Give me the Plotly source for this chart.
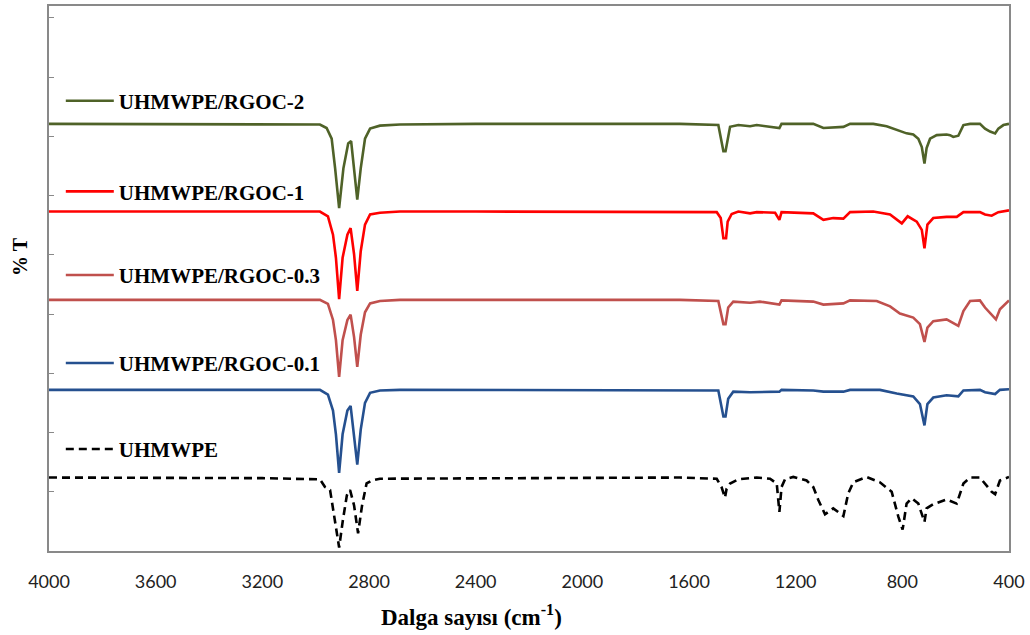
import plotly.graph_objects as go

# ---- data (wavenumber in cm-1, %T with stacking offsets) ----
series_names = ["UHMWPE/RGOC-2", "UHMWPE/RGOC-1", "UHMWPE/RGOC-0.3", "UHMWPE/RGOC-0.1", "UHMWPE"]

wn_rgoc2 = [4000, 3600, 3200, 2984, 2959, 2940, 2927, 2912, 2896, 2878, 2867, 2856, 2844, 2831, 2815,
            2796, 2759, 2684, 2400, 2000, 1700, 1634, 1490, 1471, 1463, 1446, 1415, 1371, 1346, 1261,
            1253, 1134, 1096, 1021, 996, 909, 859, 821, 784, 759, 740, 727, 717, 709, 696, 671, 634,
            621, 609, 590, 571, 546, 509, 490, 471, 452, 440, 421, 400]
t_rgoc2 = [72.1, 72.1, 72.1, 72.0, 71.4, 69.6, 64.6, 57.9, 64.6, 68.8, 69.2, 64.6, 59.3, 64.6, 69.6,
           71.3, 71.8, 72.0, 72.1, 72.1, 72.1, 72.1, 71.9, 67.5, 67.5, 71.6, 71.9, 71.7, 71.9, 71.4,
           72.1, 72.1, 71.4, 71.6, 72.1, 72.1, 71.7, 71.1, 70.5, 70.3, 69.6, 68.2, 65.4, 68.0, 69.6,
           70.2, 70.3, 70.2, 69.9, 70.1, 71.9, 72.1, 72.1, 71.3, 70.8, 70.5, 71.3, 71.9, 72.1]

wn_rgoc1 = [4000, 3600, 3200, 2984, 2954, 2935, 2924, 2912, 2899, 2881, 2869, 2856, 2844, 2831, 2815,
            2796, 2759, 2684, 2400, 2000, 1634, 1496, 1481, 1471, 1461, 1455, 1440, 1415, 1371, 1346,
            1277, 1261, 1253, 1134, 1096, 1059, 1021, 996, 909, 846, 802, 780, 746, 727, 717, 706,
            684, 634, 596, 571, 509, 490, 465, 440, 400]
t_rgoc1 = [57.3, 57.3, 57.3, 57.3, 56.5, 53.4, 49.5, 42.5, 49.5, 53.4, 54.5, 50.1, 43.9, 50.6, 55.1,
           56.8, 57.1, 57.3, 57.3, 57.3, 57.3, 57.2, 56.2, 52.8, 52.8, 55.6, 56.9, 57.3, 57.0, 57.2,
           57.1, 55.9, 57.2, 57.0, 55.9, 56.2, 56.1, 57.2, 57.3, 56.8, 55.3, 56.5, 55.6, 54.2, 51.1,
           55.1, 56.2, 56.4, 56.4, 57.2, 57.2, 56.8, 56.6, 57.2, 57.5]

wn_rgoc03 = [4000, 3600, 3200, 2984, 2954, 2935, 2924, 2912, 2899, 2881, 2869, 2856, 2844, 2831, 2815,
             2796, 2759, 2684, 2400, 2000, 1634, 1490, 1471, 1463, 1453, 1434, 1371, 1334, 1261, 1253,
             1134, 1096, 1021, 996, 896, 846, 809, 759, 734, 717, 706, 684, 634, 590, 571, 546, 509,
             490, 471, 449, 434, 400]
t_rgoc03 = [42.4, 42.4, 42.4, 42.4, 41.7, 39.0, 35.6, 29.4, 35.6, 39.0, 39.9, 36.1, 31.1, 36.5, 40.3,
            41.8, 42.2, 42.4, 42.4, 42.4, 42.4, 42.2, 38.3, 38.3, 41.1, 42.1, 41.9, 42.1, 41.6, 42.3,
            42.1, 41.6, 41.8, 42.3, 42.2, 41.3, 40.1, 39.4, 38.3, 35.3, 37.7, 38.8, 39.1, 38.0, 40.5,
            42.2, 42.3, 41.1, 40.2, 39.1, 40.8, 42.3]

wn_rgoc01 = [4000, 3600, 3200, 2984, 2954, 2935, 2924, 2912, 2899, 2881, 2869, 2856, 2844, 2831, 2815,
             2796, 2759, 2684, 2400, 2000, 1634, 1490, 1471, 1463, 1453, 1434, 1371, 1261, 1253, 1134,
             1096, 1021, 996, 884, 821, 759, 734, 717, 706, 684, 634, 590, 571, 509, 490, 452, 434, 400]
t_rgoc01 = [27.2, 27.2, 27.2, 27.2, 26.4, 23.7, 19.7, 13.2, 19.7, 23.7, 24.5, 19.7, 14.6, 20.5, 25.0,
            26.7, 27.1, 27.2, 27.2, 27.2, 27.2, 27.1, 22.7, 22.7, 25.7, 26.9, 26.8, 26.9, 27.2, 27.1,
            26.9, 26.9, 27.2, 27.2, 26.6, 26.1, 24.8, 21.2, 24.8, 25.9, 26.3, 26.1, 27.1, 27.2, 26.8,
            26.5, 27.2, 27.3]

wn_uhmwpe = [4000, 3600, 3200, 2984, 2965, 2946, 2927, 2912, 2898, 2883, 2871, 2856, 2841, 2826, 2809,
             2789, 2759, 2400, 2000, 1634, 1496, 1478, 1465, 1459, 1446, 1415, 1346, 1296, 1271, 1261,
             1253, 1240, 1209, 1159, 1134, 1115, 1090, 1059, 1021, 1003, 984, 934, 884, 840, 815, 799,
             784, 765, 740, 717, 709, 684, 634, 615, 596, 571, 546, 509, 490, 465, 452, 434, 400]
t_uhmwpe = [12.4, 12.4, 12.3, 12.1, 10.8, 10.3, 5.2, 0.6, 5.2, 9.4, 10.3, 7.7, 3.0, 7.7, 11.4,
            11.9, 12.2, 12.3, 12.3, 12.4, 12.2, 10.8, 9.0, 10.5, 11.4, 12.1, 12.4, 12.2, 11.4, 6.6,
            10.8, 12.1, 12.5, 11.9, 10.8, 8.6, 6.2, 7.2, 5.9, 9.7, 11.6, 12.5, 11.6, 10.0, 5.8, 3.6,
            8.0, 8.9, 8.0, 4.9, 7.2, 7.9, 8.7, 8.3, 8.0, 11.4, 12.4, 12.4, 11.4, 10.0, 9.6, 11.9, 12.5]

x_ticks = [4000, 3600, 3200, 2800, 2400, 2000, 1600, 1200, 800, 400]
y_ticks = [0, 10, 20, 30, 40, 50, 60, 70, 80, 90]

# ---- styling ----
colors = ["#4f6228", "#ff0000", "#c0504d", "#25508f", "#000000"]
dashes = ["solid", "solid", "solid", "solid", "8px,5px"]
legend_y = [0.8255, 0.6593, 0.5057, 0.3444, 0.1864]
xs = [wn_rgoc2, wn_rgoc1, wn_rgoc03, wn_rgoc01, wn_uhmwpe]
ys = [t_rgoc2, t_rgoc1, t_rgoc03, t_rgoc01, t_uhmwpe]

legend_font = dict(family="Liberation Serif", size=21, color="#000000", weight="bold")

fig = go.Figure()
layout_legends = {}
for i, (name, x, y, c, d) in enumerate(zip(series_names, xs, ys, colors, dashes)):
    key = "legend" if i == 0 else f"legend{i + 1}"
    fig.add_trace(go.Scatter(x=x, y=y, mode="lines", name=name,
                             line=dict(color=c, width=2.6, dash=d),
                             legend=key))
    layout_legends[key] = dict(x=0.0123, y=legend_y[i], xanchor="left", yanchor="middle",
                               bgcolor="rgba(0,0,0,0)", borderwidth=0, font=legend_font,
                               itemwidth=48, tracegroupgap=0)

axis_gray = "#898989"
fig.update_layout(
    width=1030, height=635,
    margin=dict(l=49, r=21, t=4, b=84),
    paper_bgcolor="white", plot_bgcolor="white",
    showlegend=True,
    **layout_legends,
    xaxis=dict(range=[4000, 400], tickvals=x_ticks, ticktext=[str(v) for v in x_ticks],
               showline=True, linecolor=axis_gray, linewidth=1.5, mirror=True,
               showgrid=False, zeroline=False, ticks="", ticklabelstandoff=14,
               tickfont=dict(family="Lato", size=18, color="#222222")),
    yaxis=dict(range=[0, 92], tickvals=y_ticks, showticklabels=False,
               showline=True, linecolor=axis_gray, linewidth=1.5, mirror=True,
               showgrid=False, zeroline=False, ticks="inside", ticklen=5,
               tickcolor=axis_gray, tickwidth=1),
    annotations=[
        dict(text="Dalga sayısı (cm<sup>-1</sup>)", xref="paper", yref="paper",
             x=0.440, y=-0.119, xanchor="center", yanchor="middle", showarrow=False,
             font=dict(family="Liberation Serif", size=23, color="#000000", weight="bold")),
        dict(text="% T", xref="paper", yref="paper", x=-0.030, y=0.54,
             xanchor="center", yanchor="middle", textangle=-90, showarrow=False,
             font=dict(family="Liberation Serif", size=20, color="#000000", weight="bold")),
    ],
)

fig.write_html("out.html", config={"displayModeBar": False},
               post_script="document.body.style.margin='0px';")
